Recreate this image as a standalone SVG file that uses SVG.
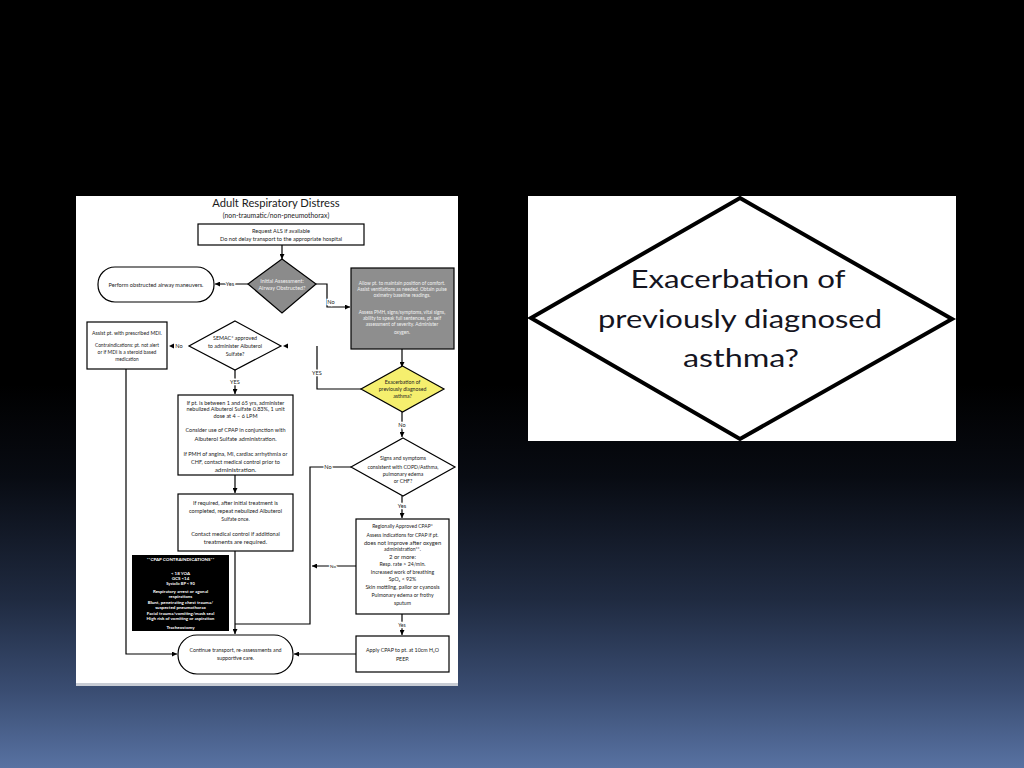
<svg xmlns="http://www.w3.org/2000/svg" width="1024" height="768" viewBox="0 0 1024 768">
<defs>
<linearGradient id="bg" x1="0" y1="0" x2="0" y2="1">
<stop offset="0" stop-color="#000"/>
<stop offset="0.5" stop-color="#000"/>
<stop offset="0.62" stop-color="#080b12"/>
<stop offset="0.78" stop-color="#1f2a40"/>
<stop offset="0.9" stop-color="#3a4d72"/>
<stop offset="1" stop-color="#5872a2"/>
</linearGradient>
<marker id="ah" viewBox="0 0 10 10" refX="10" refY="5" markerWidth="5" markerHeight="5" markerUnits="userSpaceOnUse" orient="auto">
<path d="M0,0 L10,5 L0,10 z" fill="#000"/>
</marker>
<style>
.box{fill:#fff;stroke:#000;stroke-width:1.2}
.gray{fill:#8b8b8b;stroke:#000;stroke-width:1.2}
.yel{fill:#f5ef6e;stroke:#000;stroke-width:1.2}
.blk{fill:#000}
.t{font-family:Lato,"Liberation Sans",sans-serif;fill:#222;text-anchor:middle;font-size:5.6px}
.tl{font-family:Lato,"Liberation Sans",sans-serif;fill:#f2f2f2;text-anchor:middle;font-size:4.8px}
.tw{font-family:Lato,"Liberation Sans",sans-serif;fill:#fff;text-anchor:middle;font-size:4.5px;font-weight:bold}
.lbl{font-family:Lato,"Liberation Sans",sans-serif;fill:#222;text-anchor:middle;font-size:5.6px;stroke:#fff;stroke-width:2.5px;paint-order:stroke}
.c{fill:none;stroke:#000;stroke-width:1.2}
.big{font-family:Lato,"Liberation Sans",sans-serif;fill:#15151f;text-anchor:middle;font-size:25px}
</style>
</defs>
<rect width="1024" height="768" fill="url(#bg)"/>
<!-- left panel -->
<rect x="76" y="196" width="382" height="488" fill="#fff"/>
<rect x="76" y="683" width="382" height="3" fill="#c8ccd4"/>
<g id="title">
<text x="276" y="207" class="t" style="font-size:11.2px;fill:#1a1a1a">Adult Respiratory Distress</text>
<text x="276" y="218" class="t" style="font-size:6.8px">(non-traumatic/non-pneumothorax)</text>
</g>
<g id="connectors">
<path class="c" d="M282,245 V259" marker-end="url(#ah)"/>
<path class="c" d="M248,284 H215" marker-end="url(#ah)"/>
<path class="c" d="M316,284 H327 V307 H350" marker-end="url(#ah)"/>
<path class="c" d="M402,349 V367" marker-end="url(#ah)"/>
<path class="c" d="M361,389 H317 V346"/>
<polygon points="283,346 288,343.5 288,348.5" fill="#000"/>
<polygon points="169,346 174,343.5 174,348.5" fill="#000"/>
<path class="c" d="M235,370 V394" marker-end="url(#ah)"/>
<path class="c" d="M235,475 V493" marker-end="url(#ah)"/>
<path class="c" d="M235,551 V634" marker-end="url(#ah)"/>
<path class="c" d="M126,369 V654 H177" marker-end="url(#ah)"/>
<path class="c" d="M402,412 V437" marker-end="url(#ah)"/>
<path class="c" d="M351,467 H310 V624 H235"/>
<path class="c" d="M356,566 H312" marker-end="url(#ah)"/>
<path class="c" d="M402,496 V518" marker-end="url(#ah)"/>
<path class="c" d="M402,614 V635" marker-end="url(#ah)"/>
<path class="c" d="M356,654 H294" marker-end="url(#ah)"/>
<text x="230" y="286" class="lbl">Yes</text>
<text x="331" y="304" class="lbl">No</text>
<text x="317" y="375" class="lbl">YES</text>
<text x="179" y="348" class="lbl">No</text>
<text x="235" y="384" class="lbl">YES</text>
<text x="402" y="427" class="lbl">No</text>
<text x="328" y="469" class="lbl">No</text>
<text x="333" y="568" class="lbl" style="font-size:4.5px">No</text>
<text x="402" y="508" class="lbl">Yes</text>
<text x="402" y="627" class="lbl" style="font-size:5px">Yes</text>
</g>
<g id="request-als">
<rect x="198" y="224" width="166" height="21" class="box"/>
<text x="281" y="233" class="t">Request ALS if available</text>
<text x="281" y="241" class="t">Do not delay transport to the appropriate hospital</text>
</g>
<g id="initial-assessment">
<polygon points="282,259 316,284 282,313 248,284" class="gray"/>
<text x="282" y="283" class="tl" style="font-size:5.4px">Initial Assessment:</text>
<text x="282" y="290" class="tl" style="font-size:5.4px">Airway Obstructed?</text>
</g>
<g id="perform-maneuvers">
<rect x="98" y="267" width="116" height="35" rx="17" class="box"/>
<text x="156" y="287" class="t">Perform obstructed airway maneuvers.</text>
</g>
<g id="allow-position">
<rect x="351" y="268" width="103" height="81" class="gray" style="fill:#8e8e8e"/>
<text x="402" y="285" class="tl">Allow pt. to maintain position of comfort.</text>
<text x="402" y="291" class="tl">Assist ventilations as needed. Obtain pulse</text>
<text x="402" y="297" class="tl">oximetry baseline readings.</text>
<text x="402" y="314" class="tl">Assess PMH, signs/symptoms, vital signs,</text>
<text x="402" y="320" class="tl">ability to speak full sentences, pt. self</text>
<text x="402" y="326" class="tl">assessment of severity. Administer</text>
<text x="402" y="334" class="tl">oxygen.</text>
</g>
<g id="assist-mdi">
<rect x="87" y="322" width="80" height="47" class="box"/>
<text x="127" y="335" class="t" style="font-size:5.2px">Assist pt. with prescribed MDI.</text>
<text x="127" y="347" class="t" style="font-size:4.8px">Contraindications: pt. not alert</text>
<text x="127" y="354" class="t" style="font-size:5px">or if MDI is a steroid based</text>
<text x="127" y="361" class="t" style="font-size:4.8px">medication</text>
</g>
<g id="semac-approved">
<polygon points="235,321 281,346 235,370 189,346" class="box"/>
<text x="235" y="340" class="t" style="font-size:5.4px">SEMAC* approved</text>
<text x="235" y="348" class="t" style="font-size:5.4px">to administer Albuterol</text>
<text x="235" y="356" class="t" style="font-size:5.4px">Sulfate?</text>
</g>
<g id="administer-albuterol">
<rect x="178" y="395" width="115" height="80" class="box"/>
<text x="235.5" y="405" class="t" style="font-size:5.5px">If pt. is between 1 and 65 yrs, administer</text>
<text x="235.5" y="411" class="t" style="font-size:5.5px">nebulized Albuterol Sulfate 0.83%, 1 unit</text>
<text x="235.5" y="418" class="t" style="font-size:5.5px">dose at 4 – 6 LPM</text>
<text x="235.5" y="432" class="t" style="font-size:5.5px">Consider use of CPAP in conjunction with</text>
<text x="235.5" y="441" class="t" style="font-size:5.8px">Albuterol Sulfate administration.</text>
<text x="235.5" y="456" class="t" style="font-size:5.5px">If PMH of angina, MI, cardiac arrhythmia or</text>
<text x="235.5" y="464" class="t" style="font-size:5.5px">CHF, contact medical control prior to</text>
<text x="235.5" y="472" class="t" style="font-size:6.4px">administration.</text>
</g>
<g id="repeat-albuterol">
<rect x="178" y="494" width="115" height="57" class="box"/>
<text x="235.5" y="505" class="t">If required, after initial treatment is</text>
<text x="235.5" y="513" class="t">completed, repeat nebulized Albuterol</text>
<text x="235.5" y="521" class="t" style="font-size:5px">Sulfate once.</text>
<text x="235.5" y="536" class="t">Contact medical control if additional</text>
<text x="235.5" y="544" class="t" style="font-size:6px">treatments are required.</text>
</g>
<g id="cpap-contraindications">
<rect x="132" y="555" width="97" height="76" class="blk"/>
<text x="180.5" y="561" class="tw">**CPAP CONTRAINDICATIONS**</text>
<text x="180.5" y="575" class="tw">&lt; 18 YOA</text>
<text x="180.5" y="580" class="tw">GCS &lt;14</text>
<text x="180.5" y="585" class="tw" style="font-size:4px">Systolic BP &lt; 90</text>
<text x="180.5" y="593" class="tw">Respiratory arrest or agonal</text>
<text x="180.5" y="598" class="tw">respirations</text>
<text x="180.5" y="604" class="tw">Blunt, penetrating chest trauma/</text>
<text x="180.5" y="609" class="tw">suspected pneumothorax</text>
<text x="180.5" y="615" class="tw">Facial trauma/vomiting/mask seal</text>
<text x="180.5" y="620" class="tw">High risk of vomiting or aspiration</text>
<text x="180.5" y="629" class="tw">Tracheostomy</text>
</g>
<g id="exacerbation-small">
<polygon points="402.5,366 444,389 402.5,412 361,389" class="yel"/>
<text x="402.5" y="384" class="t" style="font-size:5.2px">Exacerbation of</text>
<text x="402.5" y="391" class="t" style="font-size:5.2px">previously diagnosed</text>
<text x="402.5" y="398" class="t" style="font-size:5.2px">asthma?</text>
</g>
<g id="signs-symptoms">
<polygon points="403,438 455,467 403,496 351,467" class="box"/>
<text x="403" y="460" class="t" style="font-size:5.2px">Signs and symptoms</text>
<text x="403" y="469" class="t" style="font-size:5.2px">consistent with COPD/Asthma,</text>
<text x="403" y="476" class="t" style="font-size:5.2px">pulmonary edema</text>
<text x="403" y="483" class="t" style="font-size:5.2px">or CHF?</text>
</g>
<g id="cpap-indications">
<rect x="356" y="519" width="93" height="95" class="box"/>
<text x="402.5" y="528" class="t" style="font-size:5px">Regionally Approved CPAP*</text>
<text x="402.5" y="537" class="t" style="font-size:5px">Assess indications for CPAP if pt.</text>
<text x="402.5" y="545" class="t" style="font-size:5.8px">does not improve after oxygen</text>
<text x="402.5" y="551" class="t" style="font-size:5px">administration**.</text>
<text x="402.5" y="559" class="t" style="font-size:6px">2 or more:</text>
<text x="402.5" y="566" class="t" style="font-size:5.2px">Resp. rate &gt; 24/min.</text>
<text x="402.5" y="574" class="t" style="font-size:5.2px">Increased work of breathing</text>
<text x="402.5" y="581" class="t" style="font-size:5.2px">SpO₂ &lt; 92%</text>
<text x="402.5" y="589" class="t" style="font-size:5.4px">Skin mottling, pallor or cyanosis</text>
<text x="402.5" y="597" class="t" style="font-size:5.2px">Pulmonary edema or frothy</text>
<text x="402.5" y="605" class="t" style="font-size:5.2px">sputum</text>
</g>
<g id="apply-cpap">
<rect x="356" y="636" width="93" height="36" class="box"/>
<text x="402.5" y="652" class="t" style="font-size:5.3px">Apply CPAP to pt. at 10cm H₂O</text>
<text x="402.5" y="661" class="t" style="font-size:5.3px">PEEP.</text>
</g>
<g id="continue-transport">
<rect x="178" y="635" width="115" height="39" rx="19" class="box"/>
<text x="235.5" y="652" class="t" style="font-size:5.3px">Continue transport, re-assessments and</text>
<text x="235.5" y="660" class="t" style="font-size:5.3px">supportive care.</text>
</g>
<!-- right panel: enlarged decision -->
<rect x="528" y="196" width="428" height="245" fill="#fff"/>
<g id="exacerbation-large">
<polygon points="740,198 952,319 740,439 531,318" fill="#fff" stroke="#000" stroke-width="4" stroke-linejoin="miter"/>
<text x="738" y="288" class="big" textLength="215" lengthAdjust="spacingAndGlyphs">Exacerbation of</text>
<text x="740" y="328" class="big" textLength="284" lengthAdjust="spacingAndGlyphs">previously diagnosed</text>
<text x="741" y="367" class="big" textLength="116" lengthAdjust="spacingAndGlyphs">asthma?</text>
</g>
</svg>
